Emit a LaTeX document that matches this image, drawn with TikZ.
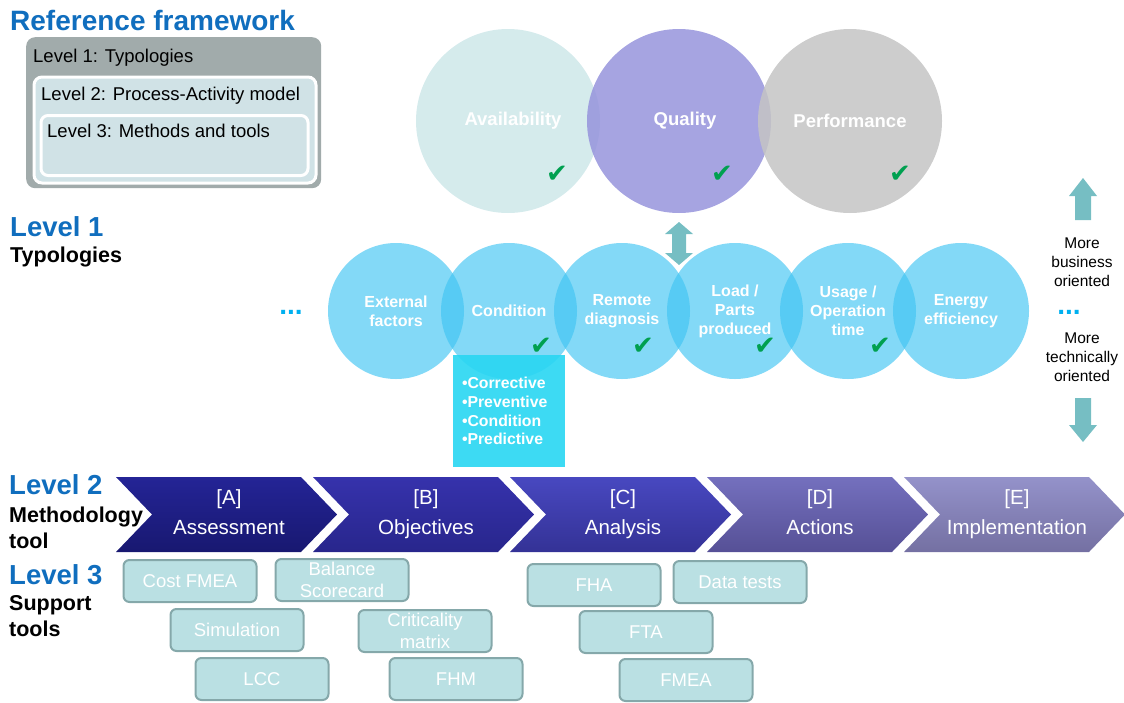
\documentclass[tikz,border=0pt]{standalone}
\usepackage{fontspec}
\setmainfont{Liberation Sans}
\newfontfamily\symfont{DejaVu Sans}

\definecolor{titleblue}{RGB}{16,110,190}
\definecolor{dotblue}{RGB}{0,176,240}
\definecolor{framegray}{RGB}{161,171,171}
\definecolor{framelight}{RGB}{208,226,230}
\definecolor{availcol}{RGB}{206,231,233}
\definecolor{qualcol}{RGB}{150,148,220}
\definecolor{perfcol}{RGB}{196,196,196}
\definecolor{typecol}{RGB}{64,196,242}
\definecolor{boxcol}{RGB}{40,214,242}
\definecolor{checkcol}{RGB}{0,160,80}
\definecolor{arrowcol}{RGB}{118,190,195}
\definecolor{toolfill}{RGB}{186,224,227}
\definecolor{tooldraw}{RGB}{133,168,170}
\definecolor{chAtop}{RGB}{36,36,150}
\definecolor{chAbot}{RGB}{24,24,112}
\definecolor{chBtop}{RGB}{54,50,172}
\definecolor{chBbot}{RGB}{40,38,140}
\definecolor{chCtop}{RGB}{72,72,192}
\definecolor{chCbot}{RGB}{52,50,150}
\definecolor{chDtop}{RGB}{116,112,190}
\definecolor{chDbot}{RGB}{86,80,150}
\definecolor{chEtop}{RGB}{148,146,202}
\definecolor{chEbot}{RGB}{116,112,162}

\tikzset{
  bigcirc/.style={circle, minimum size=184, inner sep=0pt, fill opacity=.85, text opacity=1,
    text=white, font=\fontsize{18.5}{20}\selectfont\bfseries},
  typecirc/.style={circle, minimum size=136, inner sep=0pt, fill=typecol, fill opacity=.65,
    text opacity=1, text=white, align=center, font=\fontsize{16}{19}\selectfont\bfseries},
  check/.style={text=checkcol, font=\symfont\fontsize{26}{26}\selectfont},
  toolbox/.style={rectangle, rounded corners=6, draw=tooldraw, line width=2pt, fill=toolfill,
    minimum width=133, minimum height=42, inner sep=0pt, text=white, align=center,
    font=\fontsize{18.5}{22}\selectfont},
  steplabel/.style={anchor=base, text=white, align=center, font=\fontsize{20.5}{30}\selectfont},
  lvlhead/.style={anchor=base west, inner sep=0pt, text=titleblue, font=\fontsize{27.5}{27.5}\selectfont\bfseries},
  lvlsub/.style={anchor=base west, inner sep=0pt, align=left, font=\fontsize{21.5}{26}\selectfont\bfseries},
  frametext/.style={anchor=base west, inner sep=0pt, font=\fontsize{18.5}{18.5}\selectfont},
  sidetext/.style={align=center, font=\fontsize{15.5}{19}\selectfont},
  dots/.style={text=dotblue, font=\fontsize{28}{28}\selectfont\bfseries}
}

\begin{document}
\begin{tikzpicture}[x=1pt,y=-1pt]
  \useasboundingbox (0,0) rectangle (1124,702);

  % reference framework
  \node[anchor=base west, inner sep=0pt, text=titleblue, font=\fontsize{28}{28}\selectfont\bfseries]
    (title) at (10,30) {Reference framework};
  \node[rectangle, rounded corners=9, fill=framegray, minimum width=295, minimum height=151,
    anchor=north west, inner sep=0pt] (frame1) at (26,37) {};
  \node[rectangle, rounded corners=8, fill=framelight, draw=white, line width=3pt,
    minimum width=282, minimum height=106, anchor=north west, inner sep=0pt] (frame2) at (32.5,75.5) {};
  \node[rectangle, rounded corners=7, fill=framelight, draw=white, line width=3pt,
    minimum width=267, minimum height=60, anchor=north west, inner sep=0pt] (frame3) at (39.5,114) {};
  \node[frametext] (frametxt1) at (33,62) {Level 1: Typologies};
  \node[frametext] (frametxt2) at (41,100) {Level 2: Process-Activity model};
  \node[frametext] (frametxt3) at (47,137) {Level 3: Methods and tools};

  % level titles
  \node[lvlhead] (lvl1) at (10,236) {Level 1};
  \node[lvlsub] (lvl1sub) at (10,262) {Typologies};
  \node[lvlhead] (lvl2) at (9,494) {Level 2};
  \node[lvlsub] (lvl2sub) at (9,548) {Methodology\\tool};
  \node[lvlhead] (lvl3) at (9,584) {Level 3};
  \node[lvlsub] (lvl3sub) at (9,636) {Support\\tools};

  % business circles
  \node[bigcirc, fill=availcol] (avail) at (508,121) {\hspace*{10pt}Availability};
  \node[bigcirc, fill=qualcol] (qual) at (679,121) {\hspace*{12pt}Quality};
  \node[bigcirc, fill=perfcol] (perf) at (850,121) {Performance};
  \node[check] (chk1) at (557,174) {✔};
  \node[check] (chk2) at (722,174) {✔};
  \node[check] (chk3) at (900,174) {✔};

  % typology circles
  \node[typecirc] (ext)  at (396,311) {External\\factors};
  \node[typecirc] (cond) at (509,311) {Condition};
  \node[typecirc] (rem)  at (622,311) {Remote\\diagnosis};
  \node[typecirc] (load) at (735,311) {Load /\\Parts\\produced};
  \node[typecirc] (usage) at (848,311) {Usage /\\Operation\\time};
  \node[typecirc] (energy) at (961,311) {Energy\\efficiency};
  \node[check] (chk4) at (541,346) {✔};
  \node[check] (chk5) at (643,346) {✔};
  \node[check] (chk6) at (765,346) {✔};
  \node[check] (chk7) at (880,346) {✔};
  \node[dots] (dotsL) at (291,312) {...};
  \node[dots] (dotsR) at (1069,312) {...};

  \node[rectangle, fill=boxcol, fill opacity=.9, text opacity=1, minimum width=112, minimum height=112,
    inner sep=0pt, text width=94, align=left, text=white, font=\fontsize{15.8}{18.7}\selectfont\bfseries]
    (maint) at (509,411) {•Corrective\\•Preventive\\•Condition\\•Predictive};

  % arrows
  \fill[arrowcol] (679,222) -- ++(14,12) -- ++(-7,0) -- ++(0,19) -- ++(7,0) -- ++(-14,12)
    -- ++(-14,-12) -- ++(7,0) -- ++(0,-19) -- ++(-7,0) -- cycle;
  \fill[arrowcol] (1083,178) -- ++(14,18) -- ++(-6,0) -- ++(0,24) -- ++(-16,0) -- ++(0,-24)
    -- ++(-6,0) -- cycle;
  \fill[arrowcol] (1083,442) -- ++(14,-17) -- ++(-6,0) -- ++(0,-27) -- ++(-16,0) -- ++(0,27)
    -- ++(-6,0) -- cycle;
  \node[sidetext] (busi) at (1082,262) {More\\business\\oriented};
  \node[sidetext] (tech) at (1082,357) {More\\technically\\oriented};

  % methodology chevrons
  \foreach \x/\tag/\txt in {116/A/Assessment, 313/B/Objectives, 510/C/Analysis,
      707/D/Actions, 904/E/Implementation}{
    \shade[top color=ch\tag top, bottom color=ch\tag bot]
      (\x,477) -- ++(185,0) -- ++(36,37.5) -- ++(-36,37.5) -- ++(-185,0) -- ++(36,-37.5) -- cycle;
    \node[steplabel] (step\tag) at (\x+113,534) {[\tag]\\\txt};
  }

  % support tools
  \foreach \name/\cx/\cy/\txt in {costfmea/190/581/{Cost FMEA}, bsc/342/580/{Balance\\Scorecard},
      sim/237/630/Simulation, crit/425/631/{Criticality\\matrix}, lcc/262/679/LCC,
      fhm/456/679/FHM, fha/594/585/FHA, data/740/582/{Data tests},
      fta/646/632/FTA, fmea/686/680/FMEA}{
    \node[toolbox] (\name) at (\cx,\cy) {\txt};
  }

\end{tikzpicture}
\end{document}
